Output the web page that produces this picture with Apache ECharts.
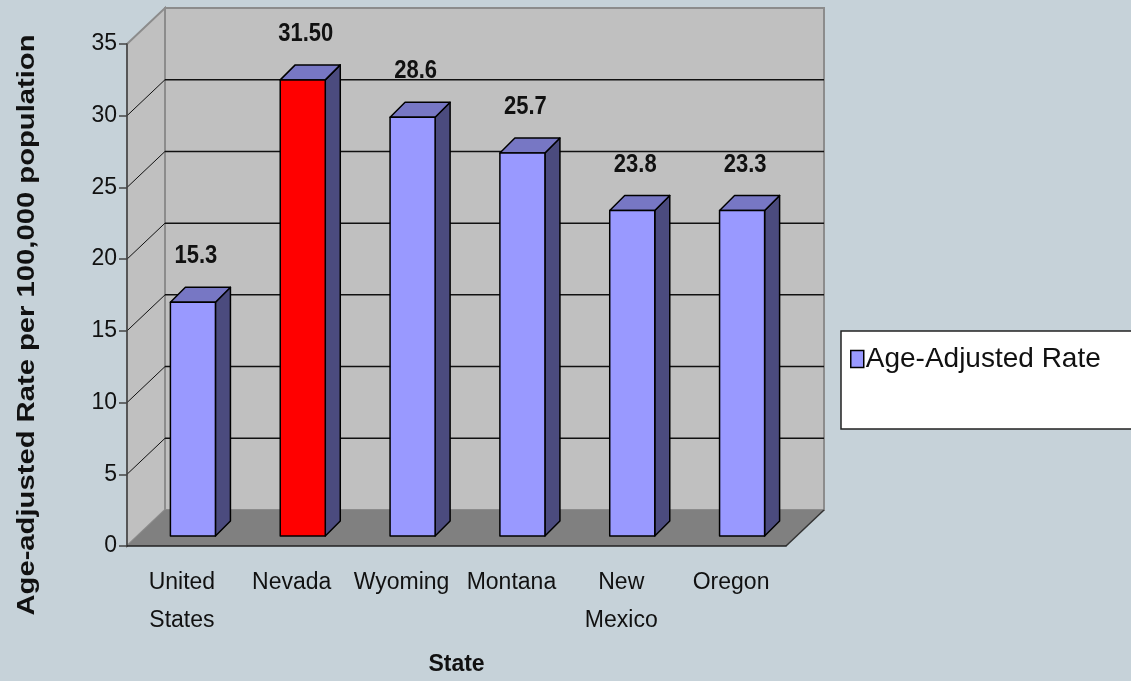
<!DOCTYPE html>
<html>
<head>
<meta charset="utf-8">
<script src="https://cdn.jsdelivr.net/npm/echarts@6/dist/echarts.min.js"></script>
<style>
  html, body { margin: 0; padding: 0; background: #C6D2D9; }
  #main { width: 1131px; height: 681px; }
</style>
</head>
<body>
<div id="main"></div>
<script>
// values
const categories = ['United\nStates', 'Nevada', 'Wyoming', 'Montana', 'New\nMexico', 'Oregon'];
const barHeights = [16.3, 31.8, 29.2, 26.7, 22.7, 22.7];
const rateLabels = ['15.3', '31.50', '28.6', '25.7', '23.8', '23.3'];
const gridValues = [5, 10, 15, 20, 25, 30];
const highlightState = 'Nevada';

const FONT = '"Liberation Sans", Arial, sans-serif';
// depth of the 3d box (back wall offset) and of the bars
const DX = 38, DY = -36;
const BAR_OFF = [11, -10], BAR_DEPTH = 15;

var myChart = echarts.init(document.getElementById('main'));

function renderWalls(params, api) {
  var cs = params.coordSys;
  var x = cs.x, y = cs.y, w = cs.width, h = cs.height;
  return {
    type: 'group',
    children: [
      { type: 'polygon', shape: { points: [[x, y], [x + DX, y + DY], [x + DX, y + h + DY], [x, y + h]] },
        style: { fill: '#C0C0C0', stroke: '#8C8C8C', lineWidth: 2 } },
      { type: 'rect', shape: { x: x + DX, y: y + DY, width: w, height: h },
        style: { fill: '#C0C0C0', stroke: '#8C8C8C', lineWidth: 2 } },
      { type: 'polygon', shape: { points: [[x, y + h], [x + w, y + h], [x + w + DX, y + h + DY], [x + DX, y + h + DY]] },
        style: { fill: '#808080' } },
      { type: 'line', shape: { x1: x + w, y1: y + h, x2: x + w + DX, y2: y + h + DY },
        style: { stroke: '#333', lineWidth: 1.5 } }
    ]
  };
}

function renderGrid(params, api) {
  var cs = params.coordSys;
  var p = api.coord([0, api.value(1)]);
  var x = cs.x, y = p[1];
  return {
    type: 'group',
    children: [
      { type: 'line', shape: { x1: x, y1: y, x2: x + DX, y2: y + DY }, style: { stroke: '#111', lineWidth: 1 } },
      { type: 'line', shape: { x1: x + DX, y1: y + DY, x2: x + DX + cs.width, y2: y + DY }, style: { stroke: '#111', lineWidth: 1.5 } }
    ]
  };
}

function renderBar(params, api) {
  var i = api.value(0);
  var base = api.coord([i, 0]);
  var top = api.coord([i, api.value(1)]);
  var bw = api.size([1, 0])[0] * 0.41;
  var xl = base[0] - bw / 2 + BAR_OFF[0];
  var xr = xl + bw;
  var yb = base[1] + BAR_OFF[1];
  var yt = top[1] + BAR_OFF[1];
  var d = BAR_DEPTH;
  var front = categories[i] === highlightState ? '#FF0000' : '#9999FF';
  var edge = { stroke: '#000', lineWidth: 1.5, lineJoin: 'round' };
  return {
    type: 'group',
    children: [
      { type: 'polygon', shape: { points: [[xr, yt], [xr + d, yt - d], [xr + d, yb - d], [xr, yb]] },
        style: Object.assign({ fill: '#4B4B7E' }, edge) },
      { type: 'polygon', shape: { points: [[xl, yt], [xl + d, yt - d], [xr + d, yt - d], [xr, yt]] },
        style: Object.assign({ fill: '#7777C4' }, edge) },
      { type: 'rect', shape: { x: xl, y: yt, width: bw, height: yb - yt },
        style: Object.assign({ fill: front }, edge) },
      { type: 'text', x: xl + bw / 2 + 3, y: yt - 46, scaleY: 1.2,
        style: { text: rateLabels[params.dataIndex], font: 'bold 22px ' + FONT, fill: '#111',
                 align: 'center', verticalAlign: 'middle' } }
    ]
  };
}

myChart.setOption({
  backgroundColor: '#C6D2D9',
  animation: false,
  grid: { left: 127, top: 44, width: 659, height: 504 },
  legend: {
    data: ['Age-Adjusted Rate'],
    left: 841, top: 331,
    orient: 'vertical',
    icon: 'rect',
    itemWidth: 13, itemHeight: 17, itemGap: 0,
    padding: [14, 50, 56, 9],
    backgroundColor: '#FFFFFF',
    borderColor: '#222', borderWidth: 1.5,
    itemStyle: { color: '#9999FF', borderColor: '#000', borderWidth: 1.5 },
    textStyle: { fontSize: 28, color: '#111', fontFamily: FONT, padding: [0, 0, 0, -3] }
  },
  graphic: [{
    type: 'text', x: 28, y: 325, rotation: Math.PI / 2, scaleX: 1.27,
    style: { text: 'Age-adjusted Rate per 100,000 population', font: 'bold 23px ' + FONT,
             fill: '#111', align: 'center', verticalAlign: 'middle' }
  }],
  xAxis: {
    type: 'category',
    data: categories,
    z: 10,
    name: 'State',
    nameLocation: 'middle',
    nameGap: 107,
    nameTextStyle: { fontSize: 23, fontWeight: 'bold', color: '#111', fontFamily: FONT },
    axisLine: { lineStyle: { color: '#222', width: 1.5 } },
    axisTick: { length: 8, lineStyle: { color: '#444', width: 1.5 } },
    axisLabel: { interval: 0, fontSize: 23, lineHeight: 38, margin: 18, color: '#111', fontFamily: FONT },
    splitLine: { show: false }
  },
  yAxis: {
    type: 'value',
    min: 0, max: 35, interval: 5,
    z: 10,
    axisLine: { show: true, lineStyle: { color: '#444', width: 1.5 } },
    axisTick: { show: true, length: 8, lineStyle: { color: '#444', width: 1.5 } },
    axisLabel: { fontSize: 23, margin: 10, color: '#111', fontFamily: FONT },
    splitLine: { show: false }
  },
  series: [
    { type: 'custom', name: 'walls', silent: true, z: 1, renderItem: renderWalls, data: [[0, 0]] },
    { type: 'custom', name: 'gridlines', silent: true, z: 2, renderItem: renderGrid,
      data: gridValues.map(function (v) { return [0, v]; }) },
    { type: 'custom', name: 'Age-Adjusted Rate', z: 3, renderItem: renderBar,
      itemStyle: { color: '#9999FF' },
      data: barHeights.map(function (v, i) { return [i, v]; }) }
  ]
});
</script>
</body>
</html>
